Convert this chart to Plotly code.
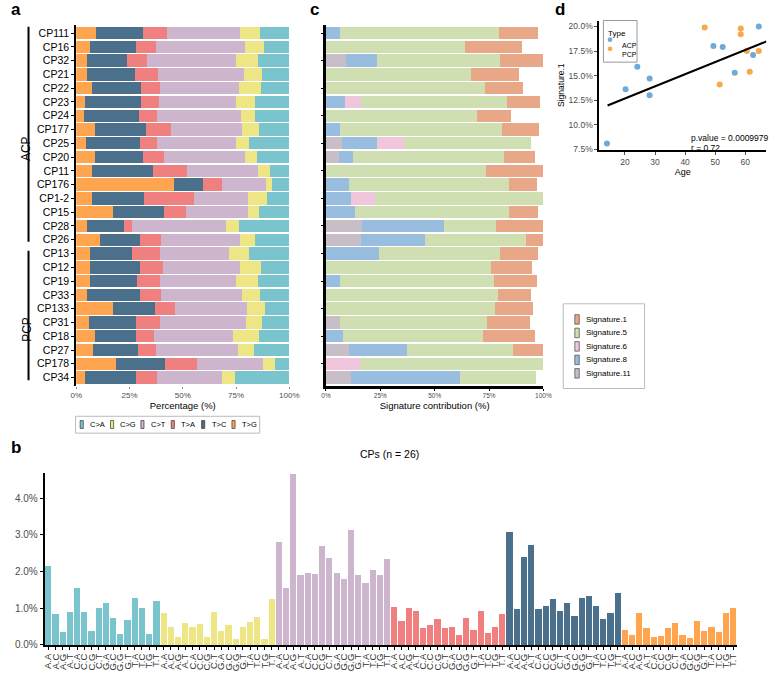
import numpy as np
import plotly.graph_objects as go

W, H = 777, 677
FONT = "Liberation Sans, Arial, sans-serif"
GRAY = "#4D4D4D"

# ---------------- panel a: mutation spectrum per sample (%) ----------------
samples = ["CP111", "CP16", "CP32", "CP21", "CP22", "CP23", "CP24", "CP177", "CP25",
           "CP20", "CP11", "CP176", "CP1-2", "CP15", "CP28", "CP26", "CP13", "CP12",
           "CP19", "CP33", "CP133", "CP31", "CP18", "CP27", "CP178", "CP34"]
pct_TG = [9.2, 6.6, 5.1, 5.1, 7.4, 4.3, 3.8, 8.6, 4.4, 8.9, 7.4, 45.9, 7.2, 17.3, 5.2, 11.0,
          6.6, 6.6, 6.3, 5.2, 17.3, 6.1, 8.9, 7.7, 18.8, 4.0]
pct_TC = [21.9, 21.4, 18.9, 22.3, 22.8, 26.2, 25.8, 24.2, 25.3, 22.5, 28.7, 13.5, 24.5, 23.7,
          17.0, 19.0, 19.6, 23.1, 22.0, 24.8, 19.6, 21.9, 19.1, 21.2, 23.0, 24.2]
pct_TA = [11.3, 9.4, 9.2, 11.2, 8.9, 8.4, 8.4, 11.6, 8.0, 9.8, 15.8, 9.1, 23.7, 10.6, 4.1, 9.7,
          12.9, 10.9, 10.9, 9.7, 9.5, 11.2, 8.3, 8.6, 14.9, 9.8]
pct_CT = [34.5, 41.6, 41.8, 40.3, 37.2, 36.3, 39.3, 33.5, 37.5, 38.1, 33.2, 20.5, 25.0, 29.1,
          44.0, 37.2, 32.6, 36.3, 36.0, 38.1, 33.5, 40.4, 37.2, 38.3, 31.0, 30.5]
pct_CG = [9.2, 8.9, 10.1, 8.1, 10.2, 8.6, 6.5, 7.7, 6.1, 5.7, 5.6, 2.7, 9.0, 5.2, 6.0, 6.9,
          9.2, 9.6, 9.9, 8.3, 8.8, 7.4, 12.4, 7.5, 5.4, 5.9]
pct_CA = [13.9, 12.1, 14.9, 13.0, 13.5, 16.2, 16.2, 14.4, 18.7, 15.0, 9.3, 8.3, 10.6, 14.1,
          23.7, 16.2, 19.1, 13.5, 14.9, 13.9, 11.3, 13.0, 14.1, 16.7, 6.9, 25.6]
mut_types = ["C>A", "C>G", "C>T", "T>A", "T>C", "T>G"]
mut_colors = ["#7AC5CD", "#EEE685", "#CDB5CD", "#F08080", "#4A708B", "#FFA54F"]
pct_tick_vals = [0, 25, 50, 75, 100]
pct_tick_text = ["0%", "25%", "50%", "75%", "100%"]

# ---------------- panel b: 96-channel profile (%) ----------------
ctx_labels = ["A.A", "A.C", "A.G", "A.T", "C.A", "C.C", "C.G", "C.T",
              "G.A", "G.C", "G.G", "G.T", "T.A", "T.C", "T.G", "T.T"]
prof_CA = [2.16, 0.83, 0.35, 0.91, 1.55, 0.90, 0.39, 1.01, 1.15, 0.74, 0.29, 0.68, 1.29, 1.00, 0.29, 1.20]
prof_CG = [0.86, 0.50, 0.22, 0.61, 0.50, 0.57, 0.22, 0.89, 0.38, 0.53, 0.16, 0.50, 0.62, 0.77, 0.17, 1.25]
prof_CT = [2.82, 1.56, 4.65, 1.91, 1.97, 1.93, 2.71, 2.36, 1.95, 1.81, 3.14, 1.90, 1.69, 2.04, 1.91, 2.35]
prof_TA = [1.04, 0.64, 1.01, 0.93, 0.45, 0.53, 0.72, 0.45, 0.50, 0.28, 0.74, 0.42, 0.93, 0.33, 0.48, 0.85]
prof_TC = [3.08, 0.98, 2.40, 2.72, 0.98, 1.07, 1.25, 0.93, 1.15, 0.80, 1.29, 1.34, 1.07, 0.72, 0.88, 1.41]
prof_TG = [0.41, 0.28, 0.86, 0.45, 0.22, 0.23, 0.47, 0.60, 0.26, 0.20, 0.64, 0.39, 0.50, 0.36, 0.86, 1.02]
prof_ticks = [0, 1, 2, 3, 4]
prof_tick_text = ["0.0%", "1.0%", "2.0%", "3.0%", "4.0%"]

# ---------------- panel c: signature contributions (%) ----------------
sig_names = ["Signature.1", "Signature.5", "Signature.6", "Signature.8", "Signature.11"]
sig_colors = ["#E8A887", "#CFDFB2", "#F0C6DC", "#99BDDE", "#C8BEC8"]
sig1 = [17.8, 26.4, 19.9, 21.9, 17.7, 15.3, 15.8, 16.9, 0, 14.5, 26.1, 12.8, 0, 13.5, 21.7, 7.9,
        17.5, 19.1, 19.8, 15.3, 17.4, 19.8, 23.7, 13.9, 0, 0]
sig5 = [73.3, 63.8, 56.3, 66.8, 73.0, 67.3, 69.5, 74.5, 58.3, 69.4, 73.7, 73.7, 77.4, 70.7, 24.0,
        46.3, 55.4, 75.8, 70.8, 79.1, 77.6, 67.9, 64.6, 48.8, 84.0, 34.7]
sig6 = [0, 0, 0, 0, 0, 7.2, 0, 0, 12.4, 0, 0, 0, 10.7, 0, 0, 0, 0, 0, 0, 0, 0, 0, 0, 0, 15.8, 0]
sig8 = [6.3, 0, 14.6, 0, 0, 8.7, 0, 6.6, 16.2, 6.3, 0, 10.5, 11.7, 13.5, 37.4, 29.7, 24.5, 0,
        6.5, 0, 0, 0, 7.8, 26.6, 0, 50.0]
sig11 = [0, 0, 9.0, 0, 0, 0, 0, 0, 7.4, 6.0, 0, 0, 0, 0, 16.7, 15.9, 0, 0, 0, 0, 0, 6.3, 0, 10.5, 0, 11.7]

# ---------------- panel d: age vs Signature.1 ----------------
group_names = ["ACP", "PCP"]
group_colors = ["#6EA9D8", "#F8A848"]
acp_age = [14.0, 20.2, 24.1, 28.2, 28.2, 49.4, 52.5, 56.5, 62.6, 64.5]
acp_sig1 = [8.1, 13.6, 15.9, 14.7, 13.0, 18.0, 17.9, 15.3, 17.1, 20.0]
pcp_age = [46.5, 58.5, 58.5, 60.5, 64.5, 61.5, 51.5]
pcp_sig1 = [19.9, 19.8, 19.2, 17.5, 17.5, 15.4, 14.1]
fit_age = [14.2, 67.0]          # regression line ends
fit_sig1 = [11.96, 18.47]
d_yticks = [7.5, 10.0, 12.5, 15.0, 17.5, 20.0]
d_ytick_text = ["7.5%", "10.0%", "12.5%", "15.0%", "17.5%", "20.0%"]
d_xticks = [20, 30, 40, 50, 60]
stat_text = ["p.value = 0.0009979", "r = 0.72"]


def fx(p):
    return p / W


def fy(p):
    return 1 - p / H


fig = go.Figure()

# panel a bars (left to right: T>G, T>C, T>A, C>T, C>G, C>A)
pa_series = [pct_CA, pct_CG, pct_CT, pct_TA, pct_TC, pct_TG]
for i in reversed(range(6)):
    fig.add_trace(go.Bar(
        y=samples, x=pa_series[i], orientation="h", name=mut_types[i], showlegend=False,
        marker=dict(color=mut_colors[i], line=dict(width=0)), width=0.9,
        xaxis="x", yaxis="y"))

# panel c bars (left to right: 11, 8, 6, 5, 1)
pc_series = [sig1, sig5, sig6, sig8, sig11]
for i in reversed(range(5)):
    fig.add_trace(go.Bar(
        y=samples, x=pc_series[i], orientation="h", name=sig_names[i], showlegend=False,
        marker=dict(color=sig_colors[i], line=dict(width=0)), width=0.9,
        xaxis="x2", yaxis="y2"))

# panel b bars
pb_series = [prof_CA, prof_CG, prof_CT, prof_TA, prof_TC, prof_TG]
for k in range(6):
    xs = list(range(16 * k, 16 * k + 16))
    fig.add_trace(go.Bar(
        x=xs, y=pb_series[k], name=mut_types[k], showlegend=False,
        marker=dict(color=mut_colors[k], line=dict(width=0)), width=0.86,
        xaxis="x4", yaxis="y4"))

# panel d scatter + regression
fig.add_trace(go.Scatter(x=acp_age, y=acp_sig1, mode="markers", name="ACP", showlegend=False,
                         marker=dict(color=group_colors[0], size=6), xaxis="x3", yaxis="y3"))
fig.add_trace(go.Scatter(x=pcp_age, y=pcp_sig1, mode="markers", name="PCP", showlegend=False,
                         marker=dict(color=group_colors[1], size=6), xaxis="x3", yaxis="y3"))
fig.add_trace(go.Scatter(x=fit_age, y=fit_sig1, mode="lines", showlegend=False,
                         line=dict(color="black", width=2), xaxis="x3", yaxis="y3"))

axis_common = dict(showgrid=False, zeroline=False)
fig.update_layout(
    width=W, height=H, autosize=False,
    margin=dict(l=0, r=0, t=0, b=0),
    paper_bgcolor="white", plot_bgcolor="white",
    font=dict(family=FONT, color="black"),
    barmode="stack", showlegend=False,
    xaxis=dict(domain=[fx(71.7), fx(289.3)], range=[0, 100], anchor="y",
               tickvals=pct_tick_vals, ticktext=pct_tick_text, ticks="outside", ticklen=2,
               tickcolor="#888888", tickfont=dict(size=8, color=GRAY), showline=False,
               title=dict(text="Percentage (%)", font=dict(size=9.5), standoff=2), **axis_common),
    yaxis=dict(domain=[fy(389.3), fy(25)], type="category", categoryarray=samples,
               range=[25.6, -0.6], anchor="x", showline=True, linecolor="black", linewidth=2,
               ticks="outside", ticklen=3, tickcolor="black",
               tickfont=dict(size=10.5, color="black"), **axis_common),
    xaxis2=dict(domain=[fx(326.7), fx(548.7)], range=[0, 100], anchor="y2",
                tickvals=pct_tick_vals, ticktext=pct_tick_text, ticks="outside", ticklen=2,
                tickcolor="black", tickfont=dict(size=6.5, color=GRAY), showline=True,
                linecolor="black", linewidth=2.5,
                title=dict(text="Signature contribution (%)", font=dict(size=9.5), standoff=4),
                **axis_common),
    yaxis2=dict(domain=[fy(389.3), fy(25)], type="category", categoryarray=samples,
                range=[25.6, -0.6], anchor="x2", showticklabels=False, showline=True,
                linecolor="black", linewidth=2.5, ticks="outside", ticklen=2, tickcolor="black",
                **axis_common),
    xaxis3=dict(domain=[fx(605.9), fx(776.3)], range=[11.5, 67], anchor="y3",
                tickvals=d_xticks, ticks="outside", ticklen=3, tickcolor=GRAY,
                tickfont=dict(size=8.5, color=GRAY), showline=True, linecolor="black", linewidth=2,
                title=dict(text="Age", font=dict(size=9), standoff=2), **axis_common),
    yaxis3=dict(domain=[fy(151.2), fy(20.7)], range=[7.45, 20.6], anchor="x3",
                tickvals=d_yticks, ticktext=d_ytick_text, ticks="outside", ticklen=3,
                tickcolor=GRAY, tickfont=dict(size=8.5, color=GRAY), showline=True,
                linecolor="black", linewidth=2,
                title=dict(text="Signature.1", font=dict(size=8.5), standoff=3), **axis_common),
    xaxis4=dict(domain=[fx(39.5), fx(746)], range=[-0.5, 95.5], anchor="y4",
                tickvals=list(range(96)), ticktext=ctx_labels * 6, tickangle=-90,
                tickfont=dict(size=9.5, color="#333333"), ticks="outside", ticklen=3,
                tickcolor="black", showline=True, linecolor="black", linewidth=2, **axis_common),
    yaxis4=dict(domain=[fy(650.7), fy(476.8)], range=[0, 4.7], anchor="x4",
                tickvals=prof_ticks, ticktext=prof_tick_text, ticks="outside", ticklen=3,
                tickcolor="black", tickfont=dict(size=10, color=GRAY), showline=True,
                linecolor="black", linewidth=2, **axis_common),
)

ann = [
    dict(text="<b>a</b>", x=fx(3), y=fy(10), xanchor="left", yanchor="middle", font=dict(size=17)),
    dict(text="<b>b</b>", x=fx(3), y=fy(452), xanchor="left", yanchor="middle", font=dict(size=17)),
    dict(text="<b>c</b>", x=fx(308), y=fy(10), xanchor="left", yanchor="middle", font=dict(size=17)),
    dict(text="<b>d</b>", x=fx(558), y=fy(10), xanchor="left", yanchor="middle", font=dict(size=17)),
    dict(text="ACP", x=fx(12), y=fy(135), textangle=-90, font=dict(size=12)),
    dict(text="PCP", x=fx(12), y=fy(332), textangle=-90, font=dict(size=12)),
    dict(text="CPs (n = 26)", x=fx(392), y=fy(466), font=dict(size=10.5)),
    dict(text=stat_text[0], x=fx(697), y=fy(132), xanchor="left", font=dict(size=8.5)),
    dict(text=stat_text[1], x=fx(697), y=fy(142), xanchor="left", font=dict(size=8.5)),
]

# ---- legend a (horizontal, drawn from mut_types / mut_colors) ----
fig.add_shape(type="rect", xref="paper", yref="paper", x0=fx(71), x1=fx(259), y0=fy(437),
              y1=fy(420), line=dict(color="#BBBBBB", width=1), fillcolor="white")
for i, (nm, col) in enumerate(zip(mut_types, mut_colors)):
    sx = 77.3 + 31.0 * i
    fig.add_shape(type="rect", xref="paper", yref="paper", x0=fx(sx - 1.6), x1=fx(sx + 1.6),
                  y0=fy(432.3), y1=fy(424.3), fillcolor=col, line=dict(color="#333333", width=0.7))
    ann.append(dict(text=nm, x=fx(sx + 6.5), y=fy(428.3), xanchor="left", font=dict(size=7.5)))

# ---- legend c (vertical, drawn from sig_names / sig_colors) ----
fig.add_shape(type="rect", xref="paper", yref="paper", x0=fx(569), x1=fx(652), y0=fy(392),
              y1=fy(306.5), line=dict(color="#BBBBBB", width=1), fillcolor="white")
for i, (nm, col) in enumerate(zip(sig_names, sig_colors)):
    cy = 322.3 + 13.6 * i
    fig.add_shape(type="rect", xref="paper", yref="paper", x0=fx(580.8), x1=fx(585.3),
                  y0=fy(cy + 4.8), y1=fy(cy - 4.8), fillcolor=col,
                  line=dict(color="#444444", width=0.7))
    ann.append(dict(text=nm, x=fx(590.5), y=fy(cy), xanchor="left", font=dict(size=8)))

# ---- legend d ----
fig.add_shape(type="rect", xref="paper", yref="paper", x0=fx(610), x1=fx(644.3), y0=fy(62.7),
              y1=fy(20.7), line=dict(color="#999999", width=1), fillcolor="white")
ann.append(dict(text="Type", x=fx(612.3), y=fy(27), xanchor="left", font=dict(size=8)))
for i, (nm, col) in enumerate(zip(group_names, group_colors)):
    cy = 40.0 + 9.3 * i
    fig.add_shape(type="circle", xref="paper", yref="paper", x0=fx(614.3), x1=fx(619.1),
                  y0=fy(cy + 2.4), y1=fy(cy - 2.4), fillcolor=col, line=dict(width=0))
    ann.append(dict(text=nm, x=fx(626.5), y=fy(cy), xanchor="left", font=dict(size=7)))

for a in ann:
    a.update(xref="paper", yref="paper", showarrow=False)
    fig.add_annotation(**a)

# group brackets for panel a
fig.add_shape(type="line", xref="paper", yref="y", x0=fx(23), x1=fx(23), y0=-0.45, y1=15.15,
              line=dict(color="black", width=2))
fig.add_shape(type="line", xref="paper", yref="y", x0=fx(23), x1=fx(23), y0=15.8, y1=25.2,
              line=dict(color="black", width=2))

fig.write_html("out.html", config={"displayModeBar": False},
               post_script="document.body.style.margin='0';document.body.style.overflow='hidden';")
